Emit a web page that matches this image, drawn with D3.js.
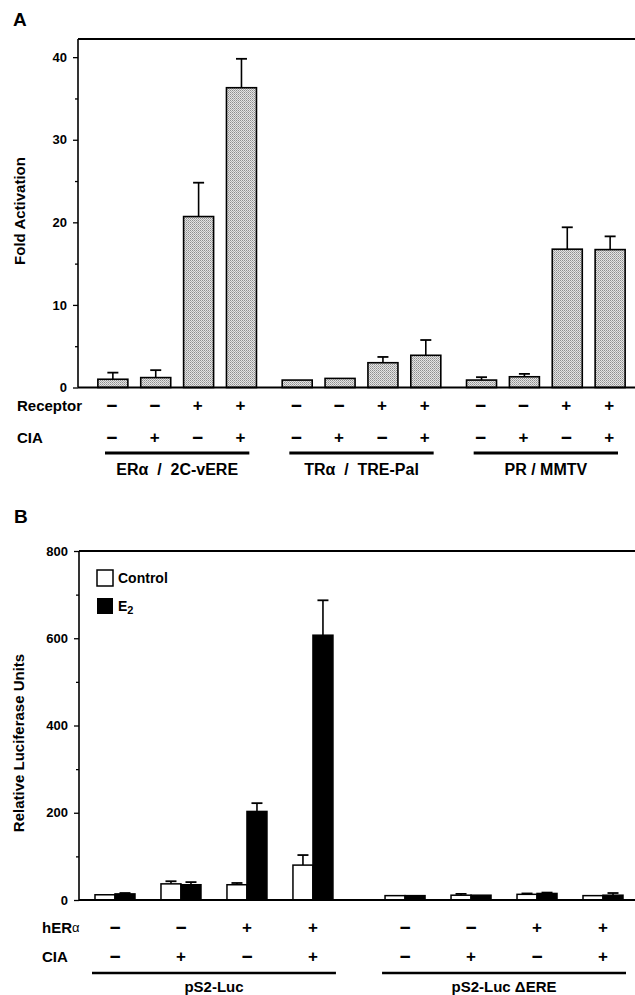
<!DOCTYPE html>
<html>
<head>
<meta charset="utf-8">
<script src="https://d3js.org/d3.v7.min.js"></script>
<style>
  body { margin: 0; background: #fff; }
  svg text { font-family: "Liberation Sans", Arial, Helvetica, sans-serif; font-weight: bold; fill: #000; }
</style>
</head>
<body>
<script>
// ---- panel A data ----
const groupsA = ['ERα  /  2C-vERE', 'TRα  /  TRE-Pal', 'PR / MMTV'];
const condsA = ['a', 'b', 'c', 'd'];
const receptorA = ['−', '−', '+', '+'];
const ciaA = ['−', '+', '−', '+'];
const foldA = [1.0, 1.2, 20.7, 36.3, 0.9, 1.1, 3.0, 3.9, 0.9, 1.3, 16.75, 16.7];
const foldErrA = [0.8, 0.9, 4.1, 3.5, 0, 0, 0.7, 1.85, 0.35, 0.35, 2.65, 1.6];
const ticksA = [0, 10, 20, 30, 40];
const minorTicksA = [5, 15, 25, 35];

// ---- panel B data ----
const groupsB = ['pS2-Luc', 'pS2-Luc ΔERE'];
const condsB = ['a', 'b', 'c', 'd'];
const heraB = ['−', '−', '+', '+'];
const ciaB = ['−', '+', '−', '+'];
const treatB = ['Control', 'E2'];
const controlB = [12, 37, 35, 80, 10, 11, 13, 10];
const controlErrB = [1, 6, 4, 23, 0, 3, 2, 1];
const e2B = [14, 35, 203, 607, 10, 11, 15, 11];
const e2ErrB = [2, 6, 19, 80, 0, 1, 2, 5];
const ticksB = [0, 200, 400, 600, 800];
const minorTicksB = [100, 300, 500, 700];

const svg = d3.select('body').append('svg')
  .attr('width', 635)
  .attr('height', 995);

// halftone fill for panel A bars
const pat = svg.append('defs').append('pattern')
  .attr('id', 'dots')
  .attr('width', 2).attr('height', 2)
  .attr('patternUnits', 'userSpaceOnUse');
pat.append('rect').attr('width', 2).attr('height', 2).attr('fill', '#e4e4e4');
pat.append('rect').attr('width', 1).attr('height', 1).attr('fill', '#8e8e8e');
pat.append('rect').attr('x', 1).attr('y', 1).attr('width', 1).attr('height', 1).attr('fill', '#adadad');

function errBar(g, cx, y0, y1) {
  if (Math.abs(y0 - y1) < 0.5) return;
  g.append('line').attr('x1', cx).attr('x2', cx).attr('y1', y0).attr('y2', y1)
    .attr('stroke', '#000').attr('stroke-width', 1.6);
  g.append('line').attr('x1', cx - 5.5).attr('x2', cx + 5.5).attr('y1', y1).attr('y2', y1)
    .attr('stroke', '#000').attr('stroke-width', 1.8);
}

function yAxes(g, x0, y, ticks, minor) {
  const major = g.append('g').attr('transform', `translate(${x0},0)`)
    .call(d3.axisLeft(y).tickValues(ticks).tickSize(5).tickPadding(6).tickFormat(d3.format('d')));
  const mn = g.append('g').attr('transform', `translate(${x0},0)`)
    .call(d3.axisLeft(y).tickValues(minor).tickSize(3).tickFormat(''));
  [major, mn].forEach(a => {
    a.select('.domain').remove();
    a.selectAll('line').attr('stroke', '#000').attr('stroke-width', 1.3);
  });
  major.selectAll('text').style('font-size', '13px').attr('fill', '#000');
}

// sign text: minus drawn a bit larger so it reads as a thick dash
function sign(g, x, y, s) {
  g.append('text').attr('x', x).attr('y', y).attr('text-anchor', 'middle')
    .attr('dominant-baseline', 'central')
    .style('font-size', s === '+' ? '17px' : '19px').text(s);
}

// ================= PANEL A =================
const gA = svg.append('g');
const axA = 78, topA = 39, baseA = 387.5;
const yA = d3.scaleLinear().domain([0, 42.2]).range([baseA, topA]);
const xA = d3.scaleBand().domain(groupsA).range([85, 638]);
const xAin = d3.scaleBand().domain(condsA).range([0, xA.bandwidth()])
  .paddingInner(0.3).paddingOuter(0.3);

gA.append('text').attr('x', 13).attr('y', 26).style('font-size', '19px').text('A');

// frame: top, left, baseline
gA.append('line').attr('x1', axA).attr('x2', 635).attr('y1', topA).attr('y2', topA)
  .attr('stroke', '#000').attr('stroke-width', 2);
gA.append('line').attr('x1', axA).attr('x2', axA).attr('y1', topA).attr('y2', baseA)
  .attr('stroke', '#000').attr('stroke-width', 1.6);
yAxes(gA, axA, yA, ticksA, minorTicksA);

gA.append('text')
  .attr('transform', 'translate(19,211) rotate(-90)')
  .attr('text-anchor', 'middle').attr('dominant-baseline', 'central')
  .style('font-size', '15px').text('Fold Activation');

const barsA = foldA.map((v, i) => ({
  group: groupsA[Math.floor(i / 4)], cond: condsA[i % 4], v: v, err: foldErrA[i]
}));
const barX = d => xA(d.group) + xAin(d.cond);

gA.selectAll('rect.bar').data(barsA).enter().append('rect')
  .attr('class', 'bar')
  .attr('x', barX)
  .attr('width', xAin.bandwidth())
  .attr('y', d => yA(d.v))
  .attr('height', d => baseA - yA(d.v))
  .attr('fill', 'url(#dots)')
  .attr('stroke', '#000').attr('stroke-width', 1.6);
barsA.forEach(d => errBar(gA, barX(d) + xAin.bandwidth() / 2, yA(d.v), yA(d.v + d.err)));

gA.append('line').attr('x1', axA).attr('x2', 635).attr('y1', baseA).attr('y2', baseA)
  .attr('stroke', '#000').attr('stroke-width', 1.8);

// sign rows
gA.append('text').attr('x', 17).attr('y', 405).attr('dominant-baseline', 'central')
  .style('font-size', '15px').text('Receptor');
gA.append('text').attr('x', 17).attr('y', 437).attr('dominant-baseline', 'central')
  .style('font-size', '15px').text('CIA');
groupsA.forEach(grp => {
  condsA.forEach((c, j) => {
    const cx = xA(grp) + xAin(c) + xAin.bandwidth() / 2 - 1;
    sign(gA, cx, 405, receptorA[j]);
    sign(gA, cx, 437, ciaA[j]);
  });
  gA.append('line')
    .attr('x1', xA(grp) + 20).attr('x2', xA(grp) + xA.bandwidth() - 20)
    .attr('y1', 453).attr('y2', 453)
    .attr('stroke', '#000').attr('stroke-width', 2.8);
  gA.append('text')
    .attr('x', xA(grp) + xA.bandwidth() / 2).attr('y', 469)
    .attr('text-anchor', 'middle').attr('dominant-baseline', 'central')
    .style('font-size', '16px').style('white-space', 'pre').text(grp);
});

// ================= PANEL B =================
const gB = svg.append('g');
const axB = 79, topB = 551, baseB = 900;
const yB = d3.scaleLinear().domain([0, 800]).range([baseB, topB]);
const xB = d3.scaleBand().domain(groupsB).range([82, 636]).paddingInner(0.09);
const xBin = d3.scaleBand().domain(condsB).range([0, xB.bandwidth()]);
const xPair = d3.scaleBand().domain(treatB).range([-20, 20]);

gB.append('text').attr('x', 14).attr('y', 523).style('font-size', '19px').text('B');

gB.append('line').attr('x1', axB).attr('x2', 635).attr('y1', topB).attr('y2', topB)
  .attr('stroke', '#000').attr('stroke-width', 2);
gB.append('line').attr('x1', axB).attr('x2', axB).attr('y1', topB).attr('y2', baseB)
  .attr('stroke', '#000').attr('stroke-width', 1.6);
yAxes(gB, axB, yB, ticksB, minorTicksB);

gB.append('text')
  .attr('transform', 'translate(18,743) rotate(-90)')
  .attr('text-anchor', 'middle').attr('dominant-baseline', 'central')
  .style('font-size', '15px').text('Relative Luciferase Units');

// legend
gB.append('rect').attr('x', 97).attr('y', 570).attr('width', 16).attr('height', 16)
  .attr('fill', '#fff').attr('stroke', '#000').attr('stroke-width', 1.5);
gB.append('text').attr('x', 118).attr('y', 578).attr('dominant-baseline', 'central')
  .style('font-size', '14px').text('Control');
gB.append('rect').attr('x', 97).attr('y', 598).attr('width', 16).attr('height', 16)
  .attr('fill', '#000');
const e2t = gB.append('text').attr('x', 118).attr('y', 606).attr('dominant-baseline', 'central')
  .style('font-size', '14px');
e2t.append('tspan').text('E');
e2t.append('tspan').attr('dy', 4).style('font-size', '11px').text('2');

const barsB = [];
controlB.forEach((v, i) => barsB.push({ group: groupsB[Math.floor(i / 4)], cond: condsB[i % 4], t: 'Control', v: v, err: controlErrB[i] }));
e2B.forEach((v, i) => barsB.push({ group: groupsB[Math.floor(i / 4)], cond: condsB[i % 4], t: 'E2', v: v, err: e2ErrB[i] }));
const centerB = d => xB(d.group) + xBin(d.cond) + xBin.bandwidth() / 2;

gB.selectAll('rect.bar').data(barsB).enter().append('rect')
  .attr('class', 'bar')
  .attr('x', d => centerB(d) + xPair(d.t))
  .attr('width', xPair.bandwidth())
  .attr('y', d => yB(d.v))
  .attr('height', d => baseB - yB(d.v))
  .attr('fill', d => d.t === 'E2' ? '#000' : '#fff')
  .attr('stroke', '#000').attr('stroke-width', 1.5);
barsB.forEach(d => errBar(gB, centerB(d) + xPair(d.t) + xPair.bandwidth() / 2, yB(d.v), yB(d.v + d.err)));

gB.append('line').attr('x1', axB).attr('x2', 635).attr('y1', baseB).attr('y2', baseB)
  .attr('stroke', '#000').attr('stroke-width', 1.8);

const hl = gB.append('text').attr('x', 42).attr('y', 927).attr('dominant-baseline', 'central')
  .style('font-size', '15px');
hl.append('tspan').text('hER');
hl.append('tspan').style('font-weight', 'normal').style('font-size', '13px').text('α');
gB.append('text').attr('x', 42).attr('y', 956).attr('dominant-baseline', 'central')
  .style('font-size', '15px').text('CIA');

groupsB.forEach(grp => {
  condsB.forEach((c, j) => {
    const cx = xB(grp) + xBin(c) + xBin.bandwidth() / 2;
    sign(gB, cx, 927, heraB[j]);
    sign(gB, cx, 956, ciaB[j]);
  });
  gB.append('line')
    .attr('x1', xB(grp) + 10).attr('x2', xB(grp) + xB.bandwidth() - 10)
    .attr('y1', 973).attr('y2', 973)
    .attr('stroke', '#000').attr('stroke-width', 2.5);
  gB.append('text')
    .attr('x', xB(grp) + xB.bandwidth() / 2).attr('y', 986)
    .attr('text-anchor', 'middle').attr('dominant-baseline', 'central')
    .style('font-size', '15px').text(grp);
});
</script>
</body>
</html>
